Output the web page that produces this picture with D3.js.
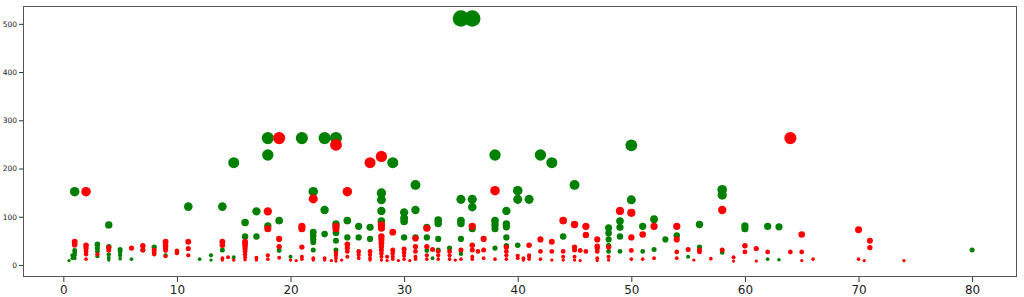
<!DOCTYPE html>
<html><head><meta charset="utf-8">
<script src="https://cdn.jsdelivr.net/npm/d3@7"></script>
<style>html,body{margin:0;padding:0;background:#fff;}svg{display:block;}</style>
</head><body>
<svg id="chart" width="1024" height="297"></svg>
<script>
// Green series: [x, y]
const greenX = [0.5,0.8,0.8,1,1,1,1,1,3,3,3,3,4,4,4,4,4,5,5,5,5,6,7,8,9,11,12,13,13,14,14,15,15,16,16,17,17,18,18,18,19,19,20,21,22,22,22,22,22,22,23,23,23,24,24,24,24,24,25,25,26,26,27,27,28,28,28,28,29,30,30,30,30,31,31,31,32,32,32,32.5,33,33,33,33,34,35,35,35,35,35,35,36,36,36,36,38,38,38,38,38,39,39,39,39,39,40,40,40,41,42,43,44,45,48,48,48,48,48,49,49,49,49,50,50,51,51,52,52,53,54,55,56,56,58,58,58,60,60,62,62,63,63,80];
const greenY = [9,14,20,152,30,25,20,14,43,35,28,18,83,38,22,15,10,32,27,20,13,12,31,37,20,121,12,20,10,121,31,212,16,88,59,111,59,263,228,81,92,30,17,263,152,68,60,53,47,31,263,114,64,263,85,67,50,31,92,57,80,57,78,54,149,135,112,91,212,109,97,90,57,166,114,57,78,57,30,14,93,86,54,31,35,511,136,92,86,54,23,511,136,120,75,228,92,83,75,35,112,85,79,57,40,154,136,41,136,228,212,59,166,77,66,53,40,28,91,78,59,28,248,135,80,28,95,32,53,61,17,84,37,156,145,26,81,75,80,12,79,11,31];
// Red series: [x, y]
const redX = [1,1,2,2,2,2,2,2,3,4,4,6,7,7,8,8,8,9,9,9,9,9,10,10,11,11,11,14,14,14,14,14.5,15,16,16,16,16,16,16,16,16,17,17,18,18,18,18,19,19,19,19,20,20.5,21,21,21,21,21,22,22,22,23,23,23.6,24,24,24,24,24,24,24,24.5,25,25,25,25,25,26,26,26,27,27,27,27,27,28,28,28,28,28,28,28,28,28,28,28,28.5,28.5,29,29,29,29,29,29.5,30,30,30,30,30.5,31,31,31,31,31,32,32,32,32,32.5,33,33,33,34,34,34,34.5,35,35,36,36,36,36,36,36.5,37,37,37,38,38,39,39,39,39,40,40,40.5,40.5,41,41,41,41,42,42,42,43,43,43,44,44,44,44,45,45,45,45,45,45.5,45.5,46,46,46,47,47,47,47,47,47,48,48,48,49,50,50,50,50,51,51,52,52,54,54,54,54,55,55.5,56,56,57,58,58,59,59,60,60,61,61,62,64,64,65,65,65,66,70,70,70.5,71,71,74];
const redY = [48,42,152,41,35,28,22,12,22,36,31,35,40,31,31,26,22,48,40,35,30,18,29,25,48,34,20,48,41,14,10,16,10,48,44,39,33,28,22,16,11,15,10,111,75,20,12,263,54,38,15,10,9,80,75,37,17,12,137,14,10,14,10,9,249,80,75,25,20,14,8,10,152,43,35,28,17,28,21,14,212,28,21,14,10,225,83,76,59,52,45,38,31,24,17,10,17,9,68,31,24,17,12,9,33,26,19,12,9,55,38,28,17,12,76,38,20,12,32,28,20,12,28,20,12,10,31,12,80,41,31,17,12,28,54,31,14,154,12,37,28,20,12,19,14,14,10,41,20,17,12,53,28,12,48,28,10,92,28,17,10,84,37,31,17,10,30,9,80,62,28,53,39,35,28,14,9,37,17,10,112,108,57,30,12,63,12,80,14,80,53,27,14,32,10,31,27,13,114,31,16,8,40,27,34,8,27,263,27,63,27,9,12,73,12,9,50,36,9];
const xTicks = [0,10,20,30,40,50,60,70,80];
const yTicks = [0,100,200,300,400,500];

const svg = d3.select("#chart");
const L = 23, R = 1017, T = 6, B = 277;
const x = d3.scaleLinear().domain([-3.55, 83.95]).range([L, R]);
const y = d3.scaleLinear().domain([-25, 537]).range([B, T]);
const r = d3.scaleSqrt().domain([0, 511]).range([0.64, 8.2]);

const green = greenX.map((v,i)=>({x:v,y:greenY[i]}));
const red = redX.map((v,i)=>({x:v,y:redY[i]}));

svg.append("g").selectAll("circle").data(green).join("circle")
  .attr("cx", d=>x(d.x)).attr("cy", d=>y(d.y)).attr("r", d=>r(d.y)).attr("fill","green");
svg.append("g").selectAll("circle").data(red).join("circle")
  .attr("cx", d=>x(d.x)).attr("cy", d=>y(d.y)).attr("r", d=>r(d.y)).attr("fill","red");

const xAxis = svg.append("g").attr("transform",`translate(0,${B})`)
  .call(d3.axisBottom(x).tickValues(xTicks).tickSize(5).tickPadding(3));
xAxis.select(".domain").remove();
xAxis.selectAll("text").attr("font-family","DejaVu Sans").attr("font-size",12).attr("fill","#222");
xAxis.selectAll("line").attr("stroke","#333");

const yAxis = svg.append("g").attr("transform",`translate(${L},0)`)
  .call(d3.axisLeft(y).tickValues(yTicks).tickSize(4).tickPadding(2));
yAxis.select(".domain").remove();
yAxis.selectAll("text").attr("font-family","DejaVu Sans").attr("font-size",7.5).attr("fill","#222");
yAxis.selectAll("line").attr("stroke","#333");

svg.append("rect").attr("x",L+0.5).attr("y",T+0.5).attr("width",R-L-1).attr("height",B-T-1)
  .attr("fill","none").attr("stroke","#555").attr("stroke-width",1);
</script>
</body></html>
